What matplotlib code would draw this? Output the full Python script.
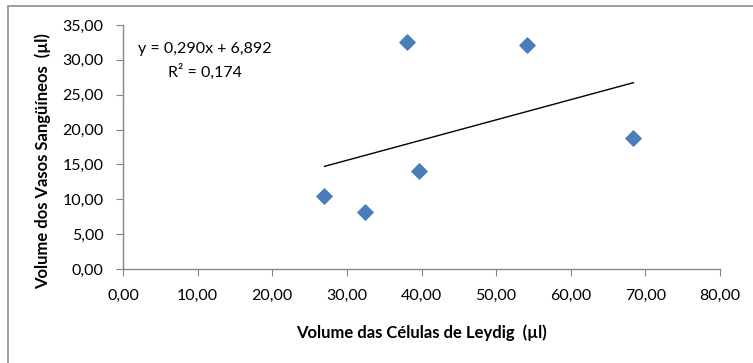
import matplotlib
matplotlib.use("Agg")
import matplotlib.pyplot as plt
from matplotlib.patches import Rectangle
from matplotlib.ticker import MultipleLocator, FuncFormatter
import numpy as np

# Data
leydig = [27.0, 32.4, 38.0, 39.6, 54.2, 68.4]
vasos = [10.5, 8.2, 32.6, 14.1, 32.2, 18.8]
slope = 0.290
intercept = 6.892
r2 = 0.174
x_label = "Volume das Células de Leydig  (µl)"
y_label = "Volume dos Vasos Sangüíneos  (µl)"

plt.rcParams['font.family'] = ['Lato', 'DejaVu Sans']

fig = plt.figure(figsize=(7.53, 3.63), dpi=100)
W, H = 753, 363
ax = fig.add_axes([123 / W, 1 - 269 / H, (720 - 123) / W, (269 - 25) / H])

# outer chart border
fig.patches.append(Rectangle((8 / W, -0.1), 1.2, 1 - 6 / H + 0.1, transform=fig.transFigure,
                             fill=False, edgecolor='#8c8c8c', linewidth=1.2))

ax.scatter(leydig, vasos, marker='D', s=60, color='#4a7ebb', edgecolors='#4a7ebb', zorder=3)
xs = np.array([min(leydig), max(leydig)])
ax.plot(xs, slope * xs + intercept, color='black', linewidth=1.0, zorder=2)

ax.set_xlim(0, 80)
ax.set_ylim(0, 35)
ax.xaxis.set_major_locator(MultipleLocator(10))
ax.yaxis.set_major_locator(MultipleLocator(5))
fmt = FuncFormatter(lambda v, p: f"{v:.2f}".replace('.', ','))
ax.xaxis.set_major_formatter(fmt)
ax.yaxis.set_major_formatter(fmt)
for s in ['top', 'right']:
    ax.spines[s].set_visible(False)
for s in ['left', 'bottom']:
    ax.spines[s].set_color('#868686')
    ax.spines[s].set_linewidth(1.0)
ax.tick_params(axis='both', direction='out', length=5, color='#868686', labelsize=11.5,
               labelcolor='black')
ax.tick_params(axis='x', pad=9)
ax.tick_params(axis='y', pad=9)

fig.text(421 / W, 1 - 333 / H, x_label, ha='center', va='center', fontsize=12, fontweight='bold')
fig.text(43 / W, 1 - 161 / H, y_label, ha='center', va='center', rotation=90, fontsize=12,
         fontweight='bold')

eq = f"y = {slope:.3f}x + {intercept:.3f}".replace('.', ',')
r2t = f"R² = {r2:.3f}".replace('.', ',')
fig.text(205 / W, 1 - 49 / H, eq, ha='center', va='center', fontsize=11.5)
fig.text(205 / W, 1 - 72 / H, r2t, ha='center', va='center', fontsize=11.5)

fig.savefig("out.png", dpi=100)
